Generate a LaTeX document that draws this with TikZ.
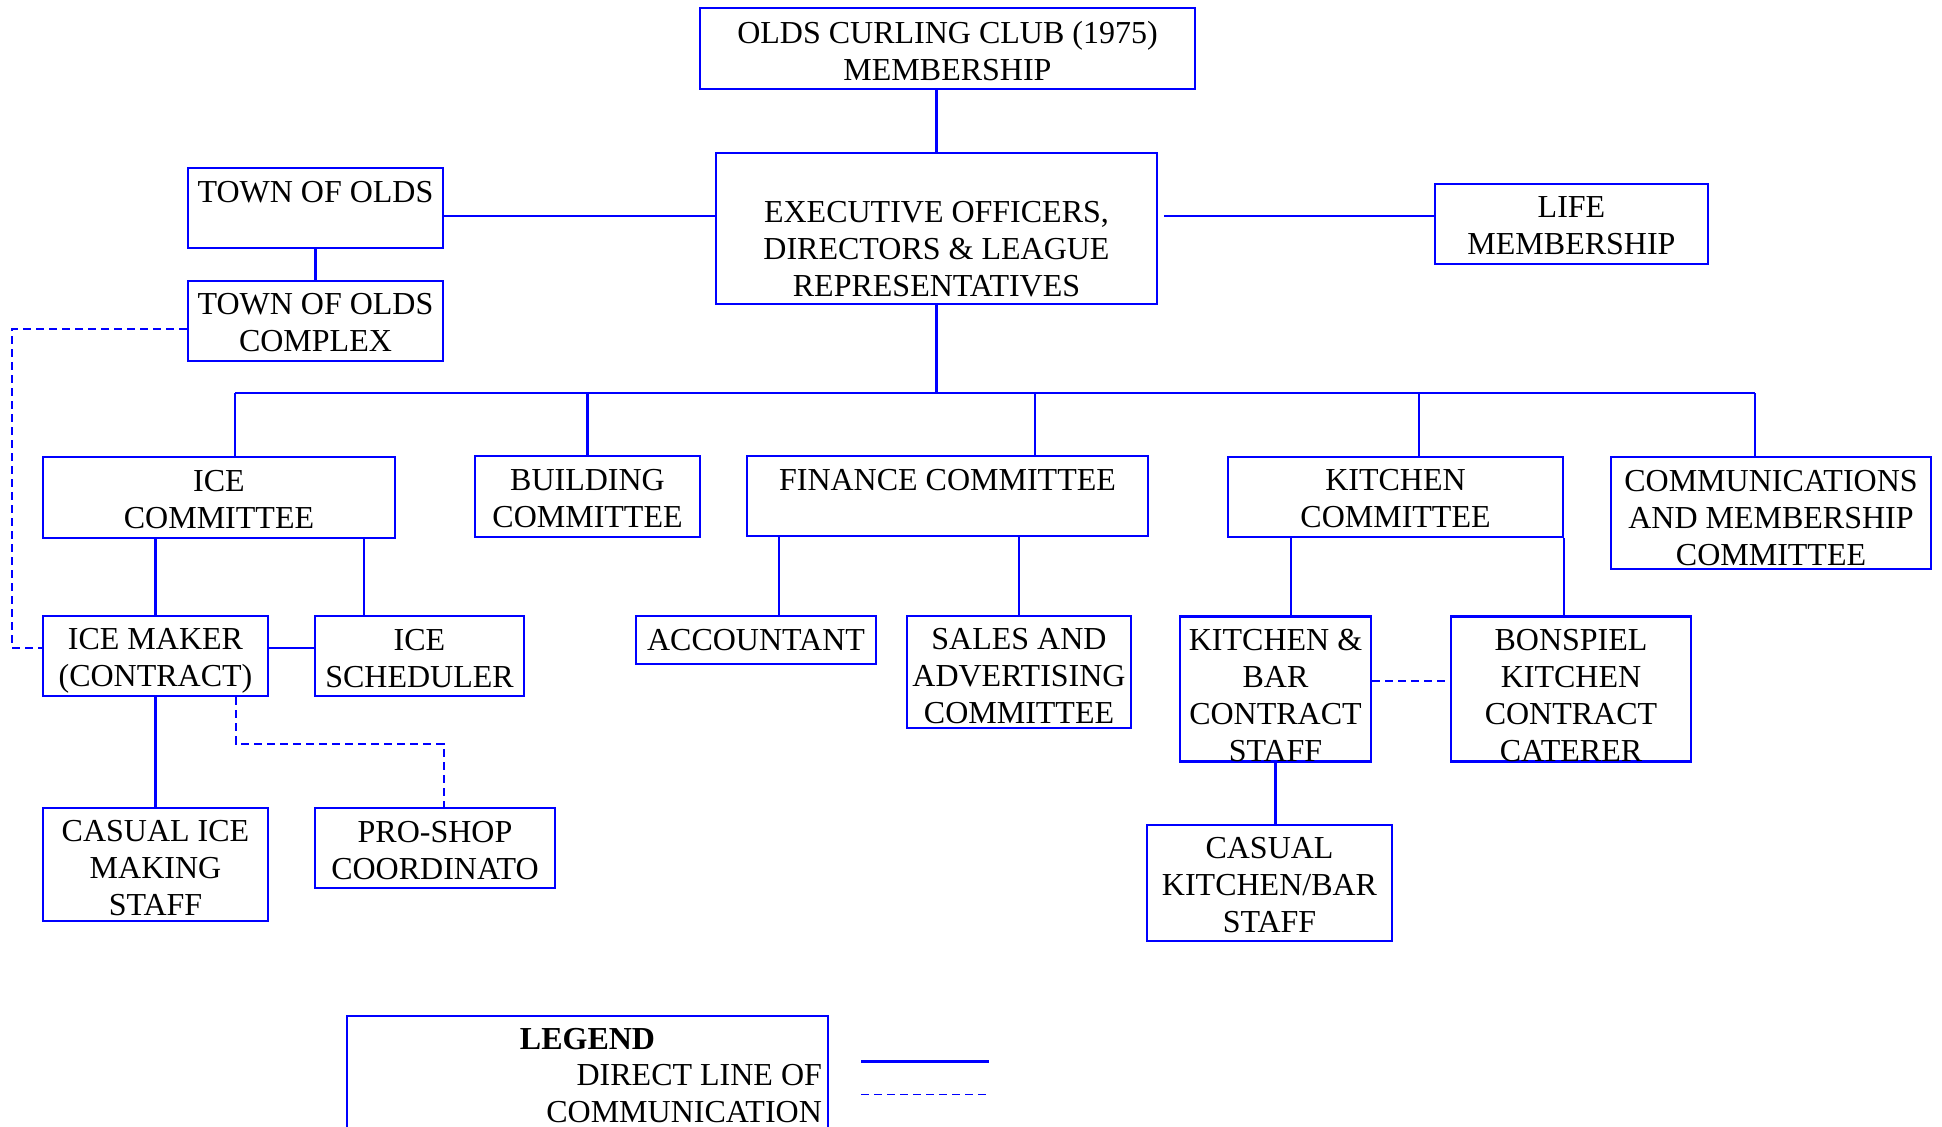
\documentclass[tikz,border=0pt]{standalone}
\usepackage{fontspec}
\setmainfont{Liberation Serif}
\usetikzlibrary{calc}
\definecolor{trait}{RGB}{0,0,255}
\newcommand{\haut}[1][12.2pt]{\rule{0pt}{#1}}

\tikzset{
  box/.style={draw=trait, line width=1.3pt, align=center, inner sep=0pt,
    font=\fontsize{16}{18.5}\selectfont},
  lien/.style={draw=trait, line width=1.15pt},
  fin lien/.style={draw=trait, line width=0.7pt},
  pointille/.style={draw=trait, line width=0.6pt, dash pattern=on 4pt off 2.5pt},
}

\begin{document}
\begin{tikzpicture}[x=0.5pt, y=-0.5pt]
  \useasboundingbox (0,0) rectangle (1942,1126);
  % top of the chart
  \node[box, minimum width=247.5pt, minimum height=40.5pt] (olds) at (947.5,48.5) {\haut[13.4pt]OLDS CURLING CLUB (1975)\\MEMBERSHIP};
  \node[box, minimum width=220.5pt, minimum height=75.5pt] (exec) at (936.5,228.5) {\rule{0pt}{13.2pt}\\EXECUTIVE OFFICERS,\\DIRECTORS \& LEAGUE\\REPRESENTATIVES};
  \node[box, minimum width=127.5pt, minimum height=40pt] (town) at (315.5,208) {\haut[13.3pt]TOWN OF OLDS\\\mbox{}};
  \node[box, minimum width=127.5pt, minimum height=40pt] (complex) at (315.5,321) {\haut[12.5pt]TOWN OF OLDS\\COMPLEX};
  \node[box, minimum width=136.5pt, minimum height=40pt] (life) at (1571.5,224) {\haut LIFE\\MEMBERSHIP};
  % committees
  \node[box, minimum width=176pt, minimum height=40.5pt] (ice) at (219,497.5) {\haut ICE\\COMMITTEE};
  \node[box, minimum width=112.5pt, minimum height=40.5pt] (build) at (587.5,496.5) {\haut BUILDING\\COMMITTEE};
  \node[box, minimum width=200.5pt, minimum height=40pt] (fin) at (947.5,496) {\haut[13.3pt]FINANCE COMMITTEE\\\mbox{}};
  \node[box, minimum width=167.5pt, minimum height=40pt] (kit) at (1395.5,497) {\haut KITCHEN\\COMMITTEE};
  \node[box, minimum width=160pt, minimum height=56pt] (comm) at (1771,513) {\haut[15.3pt]COMMUNICATIONS\\AND MEMBERSHIP\\COMMITTEE};
  % staff
  \node[box, minimum width=112.5pt, minimum height=40pt] (maker) at (155.5,656) {\haut[15.8pt]ICE MAKER\\(CONTRACT)};
  \node[box, minimum width=104.5pt, minimum height=40pt] (sched) at (419.5,656) {\haut[12.8pt]ICE\\SCHEDULER};
  \node[box, minimum width=120pt, minimum height=24pt] (acct) at (756,640) {ACCOUNTANT};
  \node[box, minimum width=112pt, minimum height=56pt] (sales) at (1019,672) {\haut[15.1pt]SALES AND\\ADVERTISING\\COMMITTEE};
  \node[box, minimum width=95.5pt, minimum height=72pt] (kbar) at (1275.5,689) {\haut[16.8pt]KITCHEN \&\\BAR\\CONTRACT\\STAFF};
  \node[box, minimum width=120pt, minimum height=72pt] (bonsp) at (1571,689) {\haut[16.8pt]BONSPIEL\\KITCHEN\\CONTRACT\\CATERER};
  \node[box, minimum width=112.5pt, minimum height=56.5pt] (casice) at (155.5,864.5) {\haut[13.8pt]CASUAL ICE\\MAKING\\STAFF};
  \node[box, minimum width=120pt, minimum height=40pt] (proshop) at (435,848) {\haut[12.8pt]PRO-SHOP\\COORDINATO};
  \node[box, minimum width=122.5pt, minimum height=58pt] (caskb) at (1269.5,883) {\haut[12.8pt]CASUAL\\KITCHEN/BAR\\STAFF};

  % upper links
  \coordinate (ligne) at (0,216);
  \coordinate (bus) at (0,393);
  \coordinate (dlife) at ($(exec.east |- ligne)+(6,0)$);
  \draw[lien] (exec.north) -- (exec.north |- olds.south);
  \draw[fin lien] (town.east |- ligne) -- (exec.west |- ligne);
  \draw[fin lien] (dlife) -- (life.west |- ligne);
  \draw[lien] (town.south) -- (complex.north);
  \draw[lien] (exec.south) -- (exec.south |- bus);
  \coordinate (dice) at ($(ice.north)+(16,0)$);
  \coordinate (dfin) at ($(fin.north)+(87.5,0)$);
  \coordinate (dkit) at ($(kit.north)+(23.5,0)$);
  \coordinate (dcomm) at ($(comm.north)+(-16,0)$);
  \draw[lien] (dice |- bus) -- (dcomm |- bus);
  \foreach \d in {dice, dfin, dkit, dcomm}
    \draw[lien] (\d) -- (\d |- bus);
  \draw[lien] (build.north) -- (build.north |- bus);

  % ice committee
  \coordinate (dsched) at ($(sched.north)+(-55.5,0)$);
  \coordinate (hmaker) at ($(maker.east)+(0,-8)$);
  \draw[lien] (maker.north) -- (maker.north |- ice.south);
  \draw[lien] (dsched) -- (dsched |- ice.south);
  \draw[fin lien] (hmaker) -- (hmaker -| sched.west);
  \draw[lien] (maker.south) -- (casice.north);
  \coordinate (pmaker) at ($(maker.south)+(80.5,0)$);
  \coordinate (pshop) at ($(proshop.north)+(9,0)$);
  \coordinate (coude) at (0,744);
  \draw[pointille] (pmaker) -- (pmaker |- coude) -- (pshop |- coude) -- (pshop);
  \coordinate (gcomplex) at ($(complex.west)+(0,8)$);
  \coordinate (marge) at (12,0);
  \draw[pointille] (gcomplex) -- (gcomplex -| marge) -- (marge |- hmaker) -- (maker.west |- hmaker);

  % finance and kitchen
  \coordinate (dacct) at ($(acct.north)+(23,0)$);
  \draw[lien] (dacct) -- (dacct |- fin.south);
  \draw[lien] (sales.north) -- (sales.north |- fin.south);
  \coordinate (dkbar) at ($(kbar.north)+(15.5,0)$);
  \coordinate (hkbar) at ($(kbar.east)+(0,-8)$);
  \draw[lien] (dkbar) -- (dkbar |- kit.south);
  \draw[lien] (kit.south east) -- (kit.south east |- bonsp.north);
  \draw[pointille] (hkbar) -- (hkbar -| bonsp.west);
  \draw[lien] (kbar.south) -- (kbar.south |- caskb.north);

  % legend
  \node[box, minimum width=240.5pt, minimum height=62pt] (legend) at (587.5,1078) {};
  \node[inner sep=0pt, font=\bfseries\fontsize{16}{18.5}\selectfont] (legtitre) at ($(legend.north)+(0,24)$) {LEGEND};
  \node[inner sep=0pt, align=right, anchor=east, font=\fontsize{16}{18.5}\selectfont] (legtexte) at ($(legend.north east)+(-7,78.5)$) {DIRECT LINE OF\\COMMUNICATION};
  \draw[lien, line width=1.6pt] ($(legend.north east)+(32,47)$) -- ++(128,0);
  \draw[pointille] ($(legend.north east)+(32,80)$) -- ++(128,0);
\end{tikzpicture}
\end{document}
